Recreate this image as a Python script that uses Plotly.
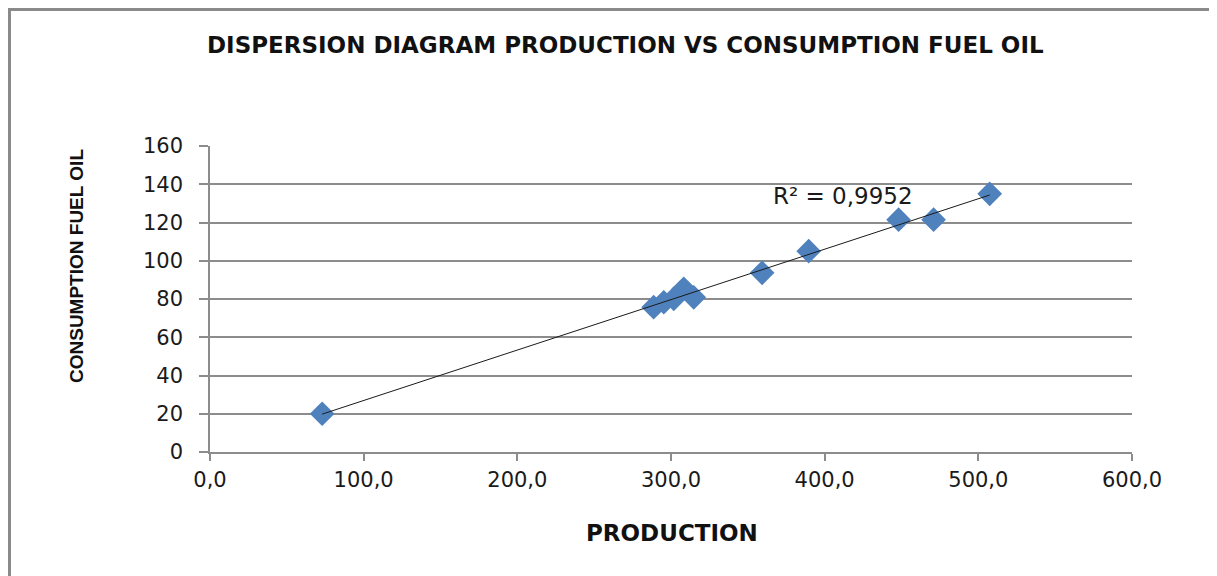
import numpy as np
import plotly.graph_objects as go

# Data
production = [73.0, 288.7, 295.3, 301.8, 308.3, 314.8, 359.3, 389.6, 448.1, 470.9, 507.4]
consumption = [20.0, 75.7, 78.3, 80.1, 85.3, 80.9, 93.7, 105.0, 121.5, 121.5, 135.0]
x_ticks = [0, 100, 200, 300, 400, 500, 600]
y_ticks = [0, 20, 40, 60, 80, 100, 120, 140, 160]
r2_label = "R² = 0,9952"
title_text = "DISPERSION DIAGRAM PRODUCTION VS CONSUMPTION FUEL OIL"
x_title = "PRODUCTION"
y_title = "CONSUMPTION FUEL OIL"

OFF = 8  # page body margin
W, H = 1209, 568
ML, MR, MT, MB = 202, 85, 138, 124
PW, PH = W - ML - MR, H - MT - MB


def px(xpage):
    return (xpage - OFF - ML) / PW


def py(ypage):
    return (H - MB - (ypage - OFF)) / PH


# Linear trendline computed from the data
slope, intercept = np.polyfit(production, consumption, 1)
tx = np.array([min(production), max(production)])
ty = slope * tx + intercept

grid = "#8c8c8c"
blue = "#4F81BD"

fig = go.Figure()
fig.add_trace(go.Scatter(
    x=production, y=consumption, mode="markers",
    marker=dict(symbol="diamond", size=19, color=blue,
                line=dict(width=0)),
    showlegend=False, hoverinfo="x+y",
))
fig.add_trace(go.Scatter(
    x=tx, y=ty, mode="lines",
    line=dict(color="#1a1a1a", width=1),
    showlegend=False, hoverinfo="skip",
))

fig.update_layout(
    width=W, height=H,
    margin=dict(l=ML, r=MR, t=MT, b=MB),
    paper_bgcolor="white", plot_bgcolor="white",
    separators=", ",
    font=dict(family="DejaVu Sans", size=21, color="#1a1a1a"),
    xaxis=dict(
        range=[0, 600], tickvals=x_ticks, tickformat=".1f",
        showgrid=False, zeroline=False,
        showline=True, linecolor=grid, linewidth=1.5,
        ticks="outside", ticklen=7, tickcolor=grid, tickwidth=1.5,
        ticklabelstandoff=1,
        tickfont=dict(family="DejaVu Sans", size=21, color="#1a1a1a"),
        fixedrange=True,
    ),
    yaxis=dict(
        range=[0, 160], tickvals=y_ticks,
        showgrid=True, gridcolor=grid, gridwidth=1.5,
        zeroline=False,
        showline=True, linecolor=grid, linewidth=1.5,
        ticks="outside", ticklen=9, tickcolor=grid, tickwidth=1.5,
        ticklabelstandoff=12,
        tickfont=dict(family="DejaVu Sans", size=21, color="#1a1a1a"),
        fixedrange=True,
    ),
    annotations=[
        dict(text=title_text, xref="paper", yref="paper",
             x=px(625), y=py(45), showarrow=False,
             xanchor="center", yanchor="middle",
             font=dict(family="DejaVu Sans", size=23, color="#111111",
                       weight="bold")),
        dict(text=x_title, xref="paper", yref="paper",
             x=px(672), y=py(533), showarrow=False,
             xanchor="center", yanchor="middle",
             font=dict(family="DejaVu Sans", size=23, color="#111111",
                       weight="bold")),
        dict(text=y_title, xref="paper", yref="paper",
             x=px(76), y=py(266), showarrow=False, textangle=-90,
             xanchor="center", yanchor="middle",
             font=dict(family="Liberation Sans", size=19, color="#111111",
                       weight="bold")),
        dict(text=r2_label, xref="paper", yref="paper",
             x=px(843), y=py(196),
             showarrow=False, xanchor="center", yanchor="middle",
             font=dict(family="DejaVu Sans", size=23, color="#1a1a1a")),
    ],
    shapes=[
        dict(type="line", xref="paper", yref="paper",
             x0=px(OFF + 1.5), x1=px(OFF + 1.5), y0=py(OFF), y1=py(H + 20),
             line=dict(color="#8a8a8a", width=3)),
        dict(type="line", xref="paper", yref="paper",
             x0=px(OFF), x1=px(W + 20), y0=py(OFF + 1.5), y1=py(OFF + 1.5),
             line=dict(color="#8a8a8a", width=3)),
    ],
)

fig.write_html("out.html")
